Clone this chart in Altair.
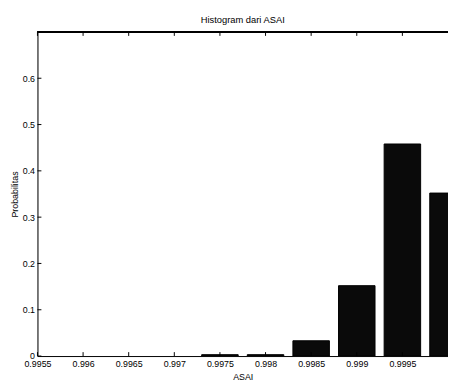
import altair as alt
import pandas as pd

# data
bin_centers = [0.9975, 0.998, 0.9985, 0.999, 0.9995, 1.0]
probabilities = [0.003, 0.003, 0.033, 0.152, 0.458, 0.352]
x_ticks = [0.9955, 0.996, 0.9965, 0.997, 0.9975, 0.998, 0.9985, 0.999, 0.9995]
y_ticks = [0, 0.1, 0.2, 0.3, 0.4, 0.5, 0.6]
bar_half = 0.0002

W, H = 418, 330
FONT = "Liberation Sans"

bars_df = pd.DataFrame({
    "x0": [c - bar_half for c in bin_centers],
    "x1": [c + bar_half for c in bin_centers],
    "p": probabilities,
    "base": [0.0] * len(bin_centers),
})
xt_df = pd.DataFrame({"t": x_ticks})
yt_df = pd.DataFrame({"t": y_ticks})

xscale = alt.Scale(domain=[0.9955, 1.0], nice=False, zero=False)
yscale = alt.Scale(domain=[0, 0.7], nice=False)

xaxis = alt.Axis(values=x_ticks, format="~g", tickSize=0, grid=False,
                 labelPadding=4, titlePadding=4, domainColor="black",
                 labelFontSize=9, titleFontSize=9, labelFont=FONT,
                 titleFont=FONT, titleFontWeight="normal",
                 labelColor="black", titleColor="black", labelFlush=False)
yaxis = alt.Axis(values=y_ticks, format="~g", tickSize=0, grid=False,
                 labelPadding=3, titlePadding=3, domainColor="black",
                 labelFontSize=9, titleFontSize=9, labelFont=FONT,
                 titleFont=FONT, titleFontWeight="normal",
                 labelColor="black", titleColor="black")

bars = alt.Chart(bars_df).mark_bar(
    color="#0a0a0a", stroke="black", strokeWidth=1, clip=True
).encode(
    x=alt.X("x0:Q", scale=xscale, title="ASAI", axis=xaxis),
    x2="x1:Q",
    y=alt.Y("p:Q", scale=yscale, title="Probabilitas", axis=yaxis),
    y2="base:Q",
)

xb = alt.Chart(xt_df).mark_rule(color="black").encode(
    x=alt.X("t:Q", scale=xscale, title="ASAI", axis=xaxis),
    y=alt.value(H), y2=alt.value(H - 4))
xtop = alt.Chart(xt_df).mark_rule(color="black").encode(
    x=alt.X("t:Q", scale=xscale, title="ASAI", axis=xaxis),
    y=alt.value(0), y2=alt.value(4))
yl = alt.Chart(yt_df).mark_rule(color="black").encode(
    y=alt.Y("t:Q", scale=yscale, title="Probabilitas", axis=yaxis),
    x=alt.value(0), x2=alt.value(4))
topline = alt.Chart(xt_df).mark_rule(color="black").encode(
    x=alt.value(0), x2=alt.value(W), y=alt.value(0))

chart = alt.layer(bars, xb, xtop, yl, topline).properties(
    width=W, height=H,
    title=alt.TitleParams("Histogram dari ASAI", font=FONT, fontSize=9.5,
                          fontWeight="normal", color="black", offset=7),
    autosize=alt.AutoSizeParams(type="none"),
    padding={"left": 30, "top": 21, "right": 0, "bottom": 21},
).configure_view(stroke=None).configure(background="white")

chart.save("out.html", embed_options={"renderer": "svg", "actions": False})
